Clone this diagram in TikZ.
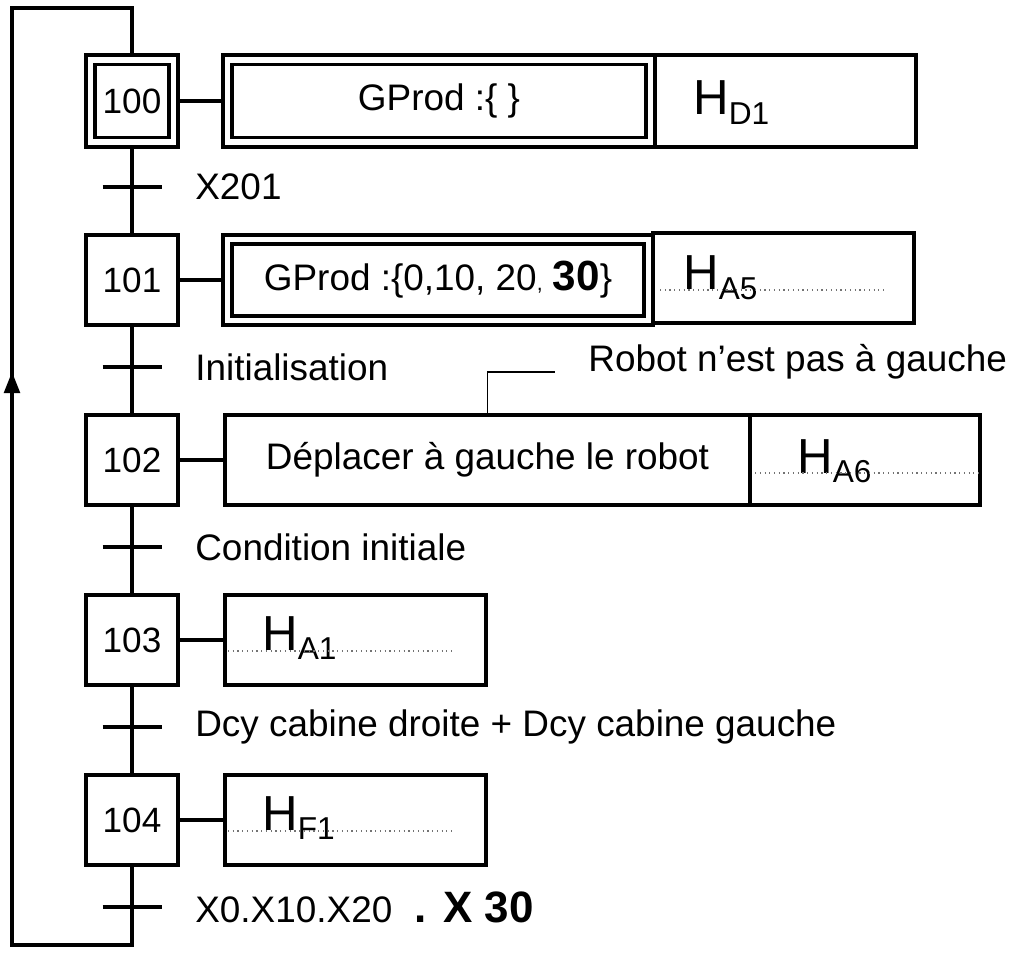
\documentclass[tikz,border=0pt]{standalone}
\usepackage{fontspec}
\setmainfont{Liberation Sans}
\usepackage{tikz}
\usetikzlibrary{arrows.meta, positioning, calc}
\newcommand{\Hsub}[1]{{\fontsize{28}{30}\selectfont H}{\fontsize{18}{20}\selectfont\raisebox{-0.3em}{#1}}}
\tikzset{
  etape/.style={rectangle, draw, line width=1.8pt, minimum width=1.84cm,
    minimum height=1.8cm, inner sep=0pt, font=\fontsize{20}{24}\selectfont},
  cadre/.style={rectangle, draw, line width=1.8pt, minimum height=1.8cm,
    inner sep=0pt, outer sep=0pt, font=\fontsize{21}{25}\selectfont},
  cadreint/.style={rectangle, draw, line width=1.8pt, inner sep=0pt,
    font=\fontsize{21}{25}\selectfont},
  cond/.style={anchor=west, inner sep=0pt, font=\fontsize{21}{25}\selectfont},
  hlabel/.style={anchor=base west, inner sep=0pt},
  liaison/.style={line width=1.8pt},
  recept/.style={line width=1.8pt},
  rappel/.style={line width=0.8pt},
  fleche/.style={-{Triangle[length=12pt,width=9pt]}, line width=1.8pt},
  pointille/.style={dotted, line width=0.7pt, color=black!55}
}
\begin{document}
\begin{tikzpicture}
  \useasboundingbox (0,0) rectangle (20.38,-19.06);
  % Etapes
  \node[etape, minimum height=1.84cm] (e100) at (2.64,-2.02) {};
  \node[etape, minimum width=1.48cm, minimum height=1.46cm] (e100in) at (e100) {100};
  \node[etape] (e101) at (2.64,-5.6) {101};
  \node[etape] (e102) at (2.64,-9.2) {102};
  \node[etape] (e103) at (2.64,-12.8) {103};
  \node[etape] (e104) at (2.64,-16.4) {104};

  % Actions
  \node[cadre, minimum width=8.64cm, minimum height=1.84cm] (a100) at (8.78,-2.02) {};
  \node[cadreint, minimum width=8.28cm, minimum height=1.46cm] (g100) at (a100) {GProd :\{ \}};
  \node[cadre, minimum width=5.22cm, minimum height=1.84cm, anchor=west] (h100) at (a100.east) {};
  \node[hlabel] (th100) at (13.86,-2.3) {\Hsub{D1}};

  \node[cadre, minimum width=8.6cm] (a101) at (8.76,-5.6) {};
  \node[cadreint, minimum width=8.24cm, minimum height=1.44cm] (g101) at (a101)
    {GProd :\{0,10, 20{\fontsize{12}{14}\selectfont,} {\fontsize{24}{28}\selectfont\bfseries 30}\}};
  \node[cadre, minimum width=5.22cm] (h101) at (15.67,-5.56) {};
  \node[hlabel] (th101) at (13.66,-5.8) {\Hsub{A5}};
  \draw[pointille] (13.2,-5.8) -- (17.7,-5.8);

  \node[cadre, minimum width=10.5cm] (a102) at (9.75,-9.2) {D\'eplacer \`a gauche le robot};
  \node[cadre, minimum width=4.6cm] (h102) at (17.3,-9.2) {};
  \node[hlabel] (th102) at (15.94,-9.46) {\Hsub{A6}};
  \draw[pointille] (15.1,-9.46) -- (19.6,-9.46);
  \node[cond] (rob) at (11.76,-7.24) {Robot n’est pas à gauche};
  \coordinate (coude) at (11.1,-7.44);
  \draw[rappel] (a102.north) |- (coude);

  \node[cadre, minimum width=5.22cm] (a103) at (7.11,-12.8) {};
  \node[hlabel] (th103) at (5.24,-13.0) {\Hsub{A1}};
  \draw[pointille] (4.56,-13.02) -- (9.06,-13.02);

  \node[cadre, minimum width=5.22cm] (a104) at (7.11,-16.4) {};
  \node[hlabel] (th104) at (5.24,-16.6) {\Hsub{F1}};
  \draw[pointille] (4.56,-16.62) -- (9.06,-16.62);

  % Liaisons etape - action
  \draw[liaison] (e100) -- (a100);
  \draw[liaison] (e101) -- (a101);
  \draw[liaison] (e102) -- (a102);
  \draw[liaison] (e103) -- (a103);
  \draw[liaison] (e104) -- (a104);

  % Transitions
  \coordinate (t1) at (2.64,-3.74);
  \coordinate (t2) at (2.64,-7.34);
  \coordinate (t3) at (2.64,-10.94);
  \coordinate (t4) at (2.64,-14.54);
  \coordinate (t5) at (2.64,-18.14);
  \draw[recept] ($(t1)+(-0.59,0)$) -- ($(t1)+(0.59,0)$);
  \draw[recept] ($(t2)+(-0.59,0)$) -- ($(t2)+(0.59,0)$);
  \draw[recept] ($(t3)+(-0.59,0)$) -- ($(t3)+(0.59,0)$);
  \draw[recept] ($(t4)+(-0.59,0)$) -- ($(t4)+(0.59,0)$);
  \draw[recept] ($(t5)+(-0.59,0)$) -- ($(t5)+(0.59,0)$);
  \node[cond] (c1) at (3.9,-3.74) {X201};
  \node[cond] (c2) at (3.9,-7.34) {Initialisation};
  \node[cond] (c3) at (3.9,-10.94) {Condition initiale};
  \node[cond] (c4) at (3.9,-14.54) {Dcy cabine droite + Dcy cabine gauche};
  \node[cond] (c5) at (3.9,-18.14) {X0.X10.X20 {\fontsize{25}{30}\selectfont\bfseries\ . X 30}};

  % Liaisons verticales et retour
  \coordinate (bas) at (2.64,-18.9);
  \coordinate (basg) at (0.24,-18.9);
  \coordinate (hautg) at (0.24,-0.16);
  \coordinate (haut) at (2.64,-0.16);
  \draw[liaison] (e100) -- (e101);
  \draw[liaison] (e101) -- (e102);
  \draw[liaison] (e102) -- (e103);
  \draw[liaison] (e103) -- (e104);
  \draw[liaison] (e104) -- (bas) -- (basg) -- (hautg) -- (haut) -- (e100);
  \draw[fleche] (basg) -- (0.24,-7.44);
\end{tikzpicture}
\end{document}
